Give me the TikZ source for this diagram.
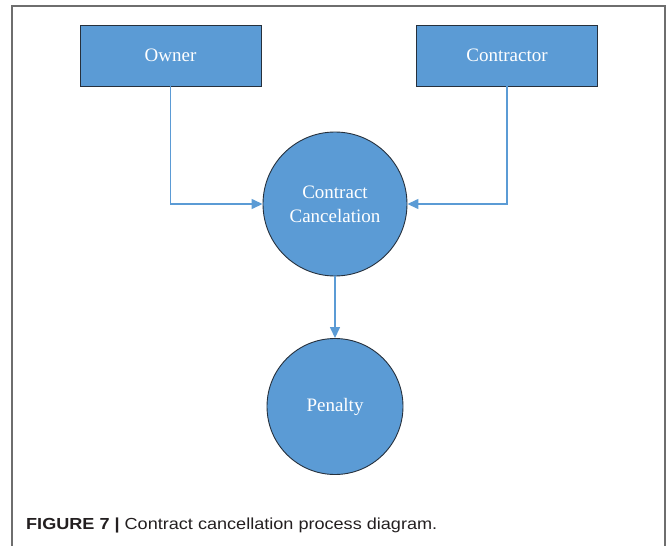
\documentclass[tikz,border=0pt]{standalone}
\usepackage{fontspec}
\usepackage{graphicx}
\setmainfont{Liberation Serif}
\newfontfamily\capfont{Liberation Sans}
\usetikzlibrary{arrows.meta}
\definecolor{officeblue}{HTML}{5B9BD5}
\definecolor{edgedark}{HTML}{26303C}
\definecolor{framegray}{HTML}{6E6E6E}
\definecolor{captext}{HTML}{231F20}
\tikzset{
  entity/.style={draw=edgedark, line width=0.9pt, fill=officeblue,
    minimum width=181pt, minimum height=61pt, inner sep=0pt,
    text=white, font=\fontsize{19}{23}\selectfont},
  process/.style={circle, draw=edgedark, line width=0.9pt, fill=officeblue,
    inner sep=0pt, text=white, align=center,
    font=\fontsize{19}{24}\selectfont},
  flow/.style={draw=officeblue, line width=1.4pt,
    -{Triangle[length=11pt,width=10pt]}},
}
\begin{document}
\begin{tikzpicture}[x=1pt, y=-1pt]
  \useasboundingbox (0,0) rectangle (670,546);
  % outer frame, open at the bottom edge
  \draw[framegray, line width=1.4pt] (12,560) -- (12,6) -- (665,6) -- (665,560);
  % nodes
  \node[entity] (owner) at (170.5,55.5) {Owner};
  \node[entity] (contractor) at (507,55.5) {Contractor};
  \node[process, minimum size=144pt] (cancel) at (335,204) {Contract\\Cancelation};
  \node[process, minimum size=136pt] (penalty) at (335,406.5) {Penalty};
  % connectors
  \draw[flow] (owner.south) |- (cancel.west);
  \draw[flow] (contractor.south) |- (cancel.east);
  \draw[flow] (cancel.south) -- (penalty.north);
  % caption
  \node[anchor=base west, inner sep=0pt, text=captext,
        font=\capfont\fontsize{16}{18}\selectfont] (caption) at (26,529)
    {\scalebox{1.13}[1]{\textbf{FIGURE 7 |} Contract cancellation process diagram.}};
\end{tikzpicture}
\end{document}
